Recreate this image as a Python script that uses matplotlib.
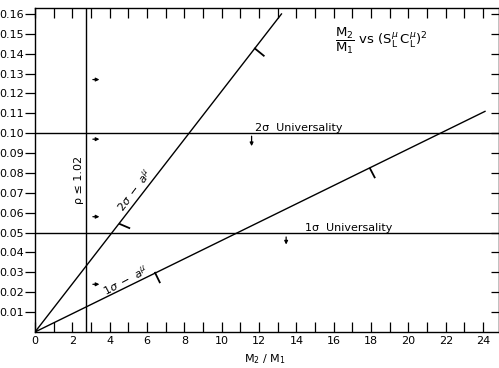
import matplotlib
matplotlib.use("Agg")
import matplotlib.pyplot as plt
import numpy as np

plt.rcParams['font.family'] = ['DejaVu Sans']
plt.rcParams['mathtext.fontset'] = 'dejavusans'

# ---- data ----
x_major = list(range(0, 25, 2))
x_minor = list(range(1, 25, 2))
y_ticks = [0.01, 0.02, 0.03, 0.04, 0.05, 0.06, 0.07, 0.08,
           0.09, 0.10, 0.11, 0.12, 0.13, 0.14, 0.15, 0.16]
y_labels = ["0.01", "0.02", "0.03", "0.04", "0.05", "0.06", "0.07", "0.08",
            "0.09", "0.10", "0.11", "0.12", "0.13", "0.14", "0.15", "0.16"]

line_2sigma_x = [0.0, 13.2]
line_2sigma_y = [0.0, 0.160]
line_1sigma_x = [0.0, 24.1]
line_1sigma_y = [0.0, 0.111]

univ_2sigma = 0.10
univ_1sigma = 0.05
rho_bound_x = 2.75

# allowed-side hatch strokes on sloped lines (start, end)
hatch_2sigma = [((11.78, 0.1426), (12.25, 0.1390)), ((4.55, 0.0543), (5.05, 0.0523))]
hatch_1sigma = [((6.43, 0.0298), (6.68, 0.0250)), ((17.94, 0.0823), (18.19, 0.0778))]

rho_arrow_y = [0.127, 0.097, 0.058, 0.024]
rho_arrow_x = (3.1, 3.45)
down_arrows = [(11.6, 0.0985, 0.0935), (13.45, 0.0478, 0.0440)]

# ---- figure ----
fig = plt.figure(figsize=(4.99, 3.68), dpi=100)
L, R, B, T = 35/499, 499/499, 1-332/368, 1-8/368
ax = fig.add_axes([L, B, R-L, T-B])
ax.set_xlim(0, 24.85)
ax.set_ylim(0, 0.163)

lw = 1.0
ax.plot(line_2sigma_x, line_2sigma_y, color='k', lw=lw)
ax.plot(line_1sigma_x, line_1sigma_y, color='k', lw=lw)
ax.axhline(univ_2sigma, color='k', lw=lw)
ax.axhline(univ_1sigma, color='k', lw=lw)
ax.axvline(rho_bound_x, color='k', lw=lw)

for (p0, p1) in hatch_2sigma + hatch_1sigma:
    ax.plot([p0[0], p1[0]], [p0[1], p1[1]], color='k', lw=1.3)

for yv in rho_arrow_y:
    ax.annotate("", xy=(rho_arrow_x[1], yv), xytext=(rho_arrow_x[0], yv),
                arrowprops=dict(arrowstyle='-|>', lw=0.9, color='k',
                                mutation_scale=5, shrinkA=0, shrinkB=0))
for (xv, y0, y1) in down_arrows:
    ax.annotate("", xy=(xv, y1), xytext=(xv, y0),
                arrowprops=dict(arrowstyle='-|>', lw=0.9, color='k',
                                mutation_scale=5, shrinkA=0, shrinkB=0))

# ticks
ax.set_xticks(x_major)
ax.set_xticklabels([str(v) for v in x_major])
ax.set_xticks(x_minor, minor=True)
ax.set_yticks(y_ticks)
ax.set_yticklabels(y_labels)
ax.tick_params(axis='x', which='both', direction='in', length=7, width=0.9,
               labelsize=8, pad=3, top=True)
ax.tick_params(axis='y', which='both', direction='out', length=7, width=0.9,
               labelsize=8, pad=1)
for s in ax.spines.values():
    s.set_linewidth(1.0)

# right inward ticks
sec = ax.secondary_yaxis('right')
sec.set_yticks(y_ticks)
sec.tick_params(direction='in', length=6, width=0.9, labelright=False)
sec.set_yticklabels([])

# text
ax.text(16.07, 0.1465, r'$\dfrac{\mathrm{M}_2}{\mathrm{M}_1}$ vs $(\mathrm{S}_\mathrm{L}^{\mu}\,\mathrm{C}_\mathrm{L}^{\mu})^2$',
        ha='left', va='center', fontsize=9.5)
ax.text(11.78, 0.1025, '2σ  Universality', ha='left', va='center', fontsize=8)
ax.text(14.46, 0.0523, '1σ  Universality', ha='left', va='center', fontsize=8)
ax.text(2.38, 0.0765, 'ρ ≤ 1.02', rotation=90, ha='center', va='center', fontsize=8)
ax.text(5.3, 0.0714, r'$2\sigma\ -\ a^{\mu}$', rotation=53, rotation_mode='anchor',
        ha='center', va='center', fontsize=8)
ax.text(4.85, 0.0262, r'$1\sigma\ -\ a^{\mu}$', rotation=28, rotation_mode='anchor',
        ha='center', va='center', fontsize=8)

fig.text(265/499, 1-359/368, r'M$_2$ / M$_1$', ha='center', va='center', fontsize=8)

fig.savefig('out.png', dpi=100)
